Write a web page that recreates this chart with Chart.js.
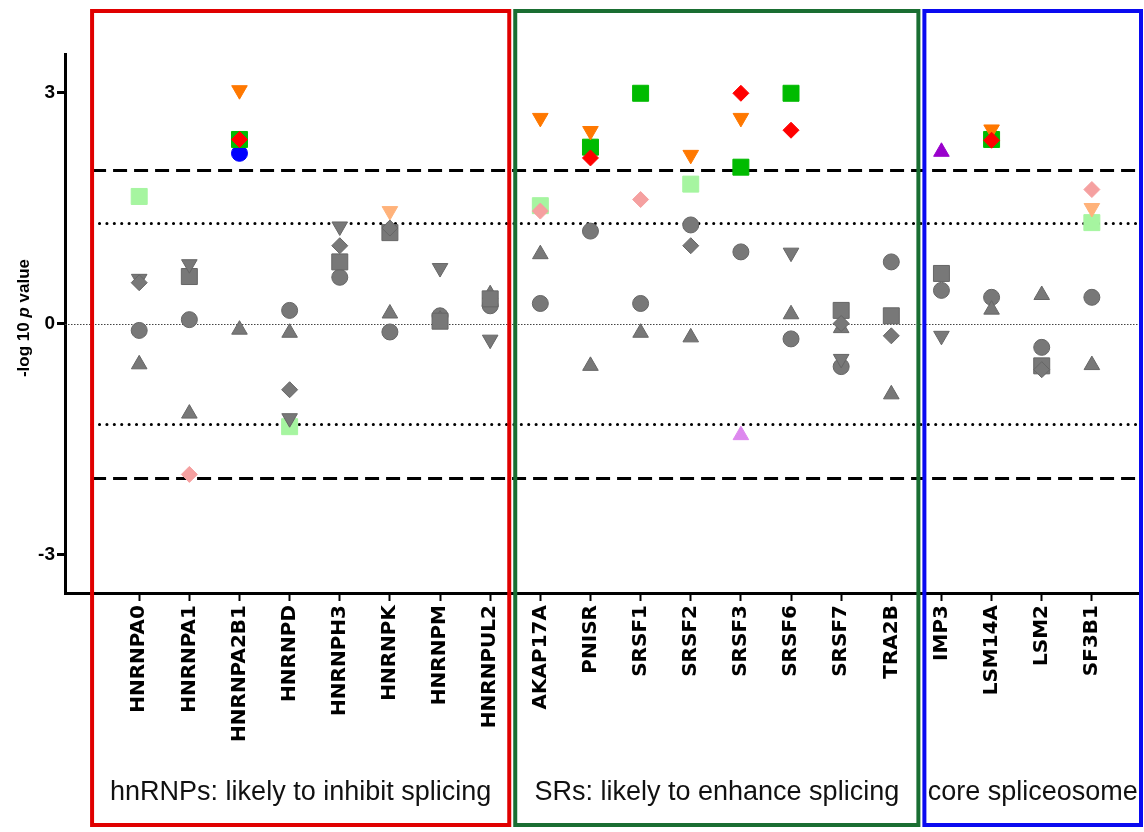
<!DOCTYPE html>
<html>
<head>
<meta charset="utf-8">
<script src="https://cdn.jsdelivr.net/npm/chart.js@4"></script>
<style>
body{margin:0;background:#fff;}
canvas{display:block;}
</style>
</head>
<body>
<canvas id="chart" width="1144" height="832"></canvas>
<script>
// genes along the x axis
const genes = ["HNRNPA0","HNRNPA1","HNRNPA2B1","HNRNPD","HNRNPH3","HNRNPK","HNRNPM","HNRNPUL2",
  "AKAP17A","PNISR","SRSF1","SRSF2","SRSF3","SRSF6","SRSF7","TRA2B",
  "IMP3","LSM14A","LSM2","SF3B1"];

// -log10 p values, one array per marker shape (null = no point)
const circleVals  = [-0.09, 0.05, 2.21, 0.17, 0.60, -0.11, 0.10, 0.23, 0.26, 1.20, 0.26, 1.28, 0.93, -0.20, -0.56, 0.80, 0.43, 0.34, -0.31, 0.34];
const squareVals  = [1.65, 0.61, 2.39, -1.34, 0.80, 1.18, 0.03, 0.32, 1.53, 2.29, 2.99, 1.81, 2.03, 2.99, 0.17, 0.10, 0.65, 2.39, -0.55, 1.31];
const triUpVals   = [-0.53, -1.17, -0.08, -0.12, null, 0.13, 0.05, 0.38, 0.90, -0.55, -0.12, -0.18, -1.45, 0.12, -0.06, -0.92, 2.23, 0.18, 0.37, -0.54];
const triDownVals = [0.58, 0.77, 3.03, -1.23, 1.26, 1.46, 0.72, -0.21, 2.67, 2.50, null, 2.19, 2.67, 0.92, -0.46, null, -0.16, 2.52, null, 1.50];
const diamondVals = [0.53, -1.96, 2.39, -0.86, 1.01, 1.24, null, null, 1.46, 2.15, 1.61, 1.01, 2.99, 2.51, 0.00, -0.16, null, 2.38, -0.60, 1.74];

// significance cut-offs (p = 0.01 and p = 0.05)
const strongCut = 2;
const weakCut = 1.3;

const groupNames = ["hnRNPs: likely to inhibit splicing", "SRs: likely to enhance splicing", "core spliceosome"];
const groupColors = ["#e00000", "#1a6e32", "#0a0af0"];
const groupEdges = [-0.94, 7.44, 15.6, 19.98];

const yTicks = [-3, 0, 3];

function toPoints(vals){
  const pts = [];
  vals.forEach(function(v, i){
    if(v !== null){ pts.push({x: i, y: v}); }
  });
  return pts;
}

function sigColor(strong, weak, gray){
  return function(ctx){
    const v = Math.abs(ctx.raw ? ctx.raw.y : 0);
    if(v >= strongCut) return strong;
    if(v >= weakCut) return weak;
    return gray;
  };
}

function series(label, vals, style, radius, rotation, strong, weak){
  return {
    label: label,
    data: toPoints(vals),
    pointStyle: style,
    pointRadius: radius,
    pointRotation: rotation,
    backgroundColor: sigColor(strong, weak, "#787878"),
    borderColor: sigColor(strong, weak, "#666666"),
    borderWidth: 1
  };
}

const refLines = {
  id: "refLines",
  beforeDatasetsDraw(chart){
    const ctx = chart.ctx;
    const xs = chart.scales.x;
    const ys = chart.scales.y;
    const area = chart.chartArea;
    const xStart = xs.getPixelForValue(groupEdges[0]);
    ctx.save();
    [strongCut, weakCut, -weakCut, -strongCut].forEach(function(v){
      const y = Math.round(ys.getPixelForValue(v)) + 0.5;
      ctx.beginPath();
      ctx.strokeStyle = "#000";
      ctx.lineWidth = 3;
      if(Math.abs(v) === strongCut){
        ctx.setLineDash([14, 7]);
        ctx.lineCap = "butt";
      } else {
        ctx.setLineDash([0.1, 7.3]);
        ctx.lineCap = "round";
      }
      ctx.moveTo(xStart, y);
      ctx.lineTo(area.right, y);
      ctx.stroke();
    });
    const y0 = Math.round(ys.getPixelForValue(0)) + 0.5;
    ctx.beginPath();
    ctx.setLineDash([1.5, 1.5]);
    ctx.lineCap = "butt";
    ctx.lineWidth = 1;
    ctx.strokeStyle = "#444";
    ctx.moveTo(area.left, y0);
    ctx.lineTo(area.right, y0);
    ctx.stroke();
    ctx.restore();
  }
};

const groupBoxes = {
  id: "groupBoxes",
  afterDraw(chart){
    const ctx = chart.ctx;
    const xs = chart.scales.x;
    ctx.save();
    for(let g = 0; g < groupNames.length; g++){
      let left = xs.getPixelForValue(groupEdges[g]);
      let right = xs.getPixelForValue(groupEdges[g + 1]);
      if(g > 0) left += 3;
      if(g < groupNames.length - 1) right -= 3;
      ctx.lineWidth = 4;
      ctx.strokeStyle = groupColors[g];
      ctx.setLineDash([]);
      ctx.strokeRect(left, 11, right - left, 814);
      ctx.fillStyle = "#111";
      ctx.font = "27px 'Liberation Sans', Arial, sans-serif";
      ctx.textAlign = "center";
      ctx.textBaseline = "alphabetic";
      ctx.fillText(groupNames[g], (left + right) / 2, 800);
    }
    // y axis title with italic p
    const parts = [["-log 10 ", "bold"], ["p", "italic bold"], [" value", "bold"]];
    ctx.translate(24, 318);
    ctx.rotate(-Math.PI / 2);
    let total = 0;
    parts.forEach(function(p){
      ctx.font = p[1] + " 17px 'Liberation Sans', Arial, sans-serif";
      total += ctx.measureText(p[0]).width;
    });
    let x = -total / 2;
    ctx.textAlign = "left";
    ctx.textBaseline = "middle";
    ctx.fillStyle = "#000";
    parts.forEach(function(p){
      ctx.font = p[1] + " 17px 'Liberation Sans', Arial, sans-serif";
      ctx.fillText(p[0], x, 0);
      x += ctx.measureText(p[0]).width;
    });
    ctx.restore();
  }
};

new Chart(document.getElementById("chart").getContext("2d"), {
  type: "scatter",
  data: {
    datasets: [
      series("diamond", diamondVals, "rectRot", 8, 0, "#ff0000", "#f5a0a0"),
      series("triangle down", triDownVals, "triangle", 9, 180, "#ff7800", "#ffb27a"),
      series("square", squareVals, "rect", 11.3, 0, "#00bb00", "#a6f5a0"),
      series("triangle up", triUpVals, "triangle", 9, 0, "#9900cc", "#dd88ee"),
      series("circle", circleVals, "circle", 8, 0, "#0000ff", "#9999ff")
    ]
  },
  options: {
    responsive: false,
    animation: false,
    layout: {autoPadding: false, padding: {top: 54, right: 3, left: 0, bottom: 0}},
    plugins: {legend: {display: false}, tooltip: {enabled: false}},
    scales: {
      x: {
        type: "linear",
        min: -1.48,
        max: 19.98,
        afterBuildTicks(scale){
          scale.ticks = genes.map(function(g, i){ return {value: i}; });
        },
        afterFit(scale){
          scale.height = 239;
          scale.paddingLeft = 0;
          scale.paddingRight = 0;
        },
        ticks: {
          autoSkip: false,
          minRotation: 90,
          maxRotation: 90,
          padding: 4,
          color: "#000",
          font: {family: "'DejaVu Sans', sans-serif", size: 20, weight: "bold"},
          callback: function(v){ return genes[v]; }
        },
        grid: {drawOnChartArea: false, drawTicks: true, tickLength: 8, tickWidth: 2, tickColor: "#000"},
        border: {display: true, color: "#000", width: 3}
      },
      y: {
        min: -3.5,
        max: 3.5,
        afterBuildTicks(scale){
          scale.ticks = yTicks.map(function(v){ return {value: v}; });
        },
        afterFit(scale){
          scale.width = 65;
          scale.paddingTop = 0;
          scale.paddingBottom = 0;
        },
        ticks: {
          padding: 2,
          color: "#000",
          font: {family: "'Liberation Sans', Arial, sans-serif", size: 19, weight: "bold"}
        },
        grid: {drawOnChartArea: false, drawTicks: true, tickLength: 8, tickWidth: 3, tickColor: "#000"},
        border: {display: true, color: "#000", width: 3}
      }
    }
  },
  plugins: [refLines, groupBoxes]
});
</script>
</body>
</html>
